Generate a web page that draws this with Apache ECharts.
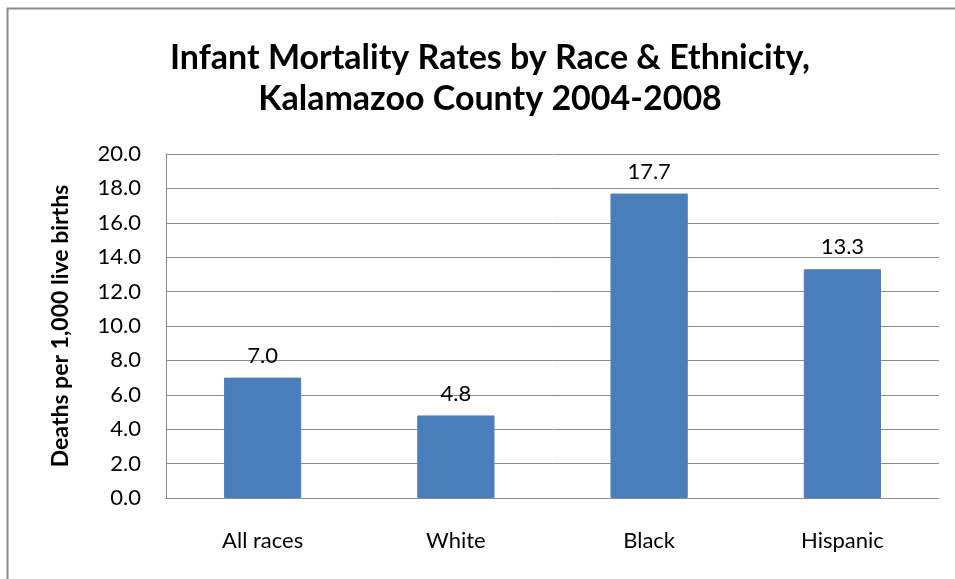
<!DOCTYPE html>
<html>
<head>
<meta charset="utf-8">
<script src="https://cdn.jsdelivr.net/npm/echarts@6/dist/echarts.min.js"></script>
<style>
  html, body { margin: 0; padding: 0; background: #fff; }
  #chart { width: 955px; height: 579px; }
</style>
</head>
<body>
<div id="chart"></div>
<script>
const categories = ["All races", "White", "Black", "Hispanic"];
const rates = [7.0, 4.8, 17.7, 13.3];
const titleLines = ["Infant Mortality Rates by Race & Ethnicity,", "Kalamazoo County 2004-2008"];
const yAxisName = "Deaths per 1,000 live births";

const fontFamily = "Lato, 'Open Sans', sans-serif";

const chart = echarts.init(document.getElementById("chart"));
chart.setOption({
  backgroundColor: "#fff",
  animation: false,
  title: {
    text: titleLines.join("\n"),
    left: 485,
    textAlign: "center",
    top: 33,
    textStyle: {
      fontFamily: fontFamily,
      fontSize: 34,
      fontWeight: "bold",
      color: "#000",
      lineHeight: 41,
    },
  },
  // outer frame, only left and top edges are inside the picture
  graphic: [
    {
      type: "rect",
      shape: { x: 7.5, y: 8.5, width: 1000, height: 600 },
      style: { fill: "none", stroke: "#8c8c8c", lineWidth: 2 },
    },
  ],
  grid: {
    left: 166,
    right: 16,
    top: 154,
    bottom: 81,
  },
  xAxis: {
    type: "category",
    data: categories,
    axisTick: { show: false },
    axisLine: { show: true, lineStyle: { color: "#8c8c8c", width: 1 } },
    axisLabel: {
      color: "#000",
      fontFamily: fontFamily,
      fontSize: 22,
      margin: 32,
    },
  },
  yAxis: {
    type: "value",
    min: 0,
    max: 20,
    interval: 2,
    name: yAxisName,
    nameLocation: "middle",
    nameGap: 94,
    nameTextStyle: {
      fontFamily: fontFamily,
      fontSize: 23,
      fontWeight: "bold",
      color: "#000",
    },
    axisLine: { show: true, lineStyle: { color: "#8c8c8c", width: 1 } },
    axisTick: { show: false },
    axisLabel: {
      color: "#000",
      fontFamily: fontFamily,
      fontSize: 22,
      margin: 25,
      formatter: (v) => v.toFixed(1),
    },
    splitLine: { show: true, lineStyle: { color: "#8c8c8c", width: 1 } },
  },
  series: [
    {
      type: "bar",
      data: rates,
      barWidth: "40%",
      itemStyle: { color: "#4a7ebb", borderColor: "#4f81bd", borderWidth: 1 },
      label: {
        show: true,
        position: "top",
        distance: 11,
        color: "#000",
        fontFamily: fontFamily,
        fontSize: 22,
        formatter: (p) => p.value.toFixed(1),
      },
    },
  ],
});
</script>
</body>
</html>
